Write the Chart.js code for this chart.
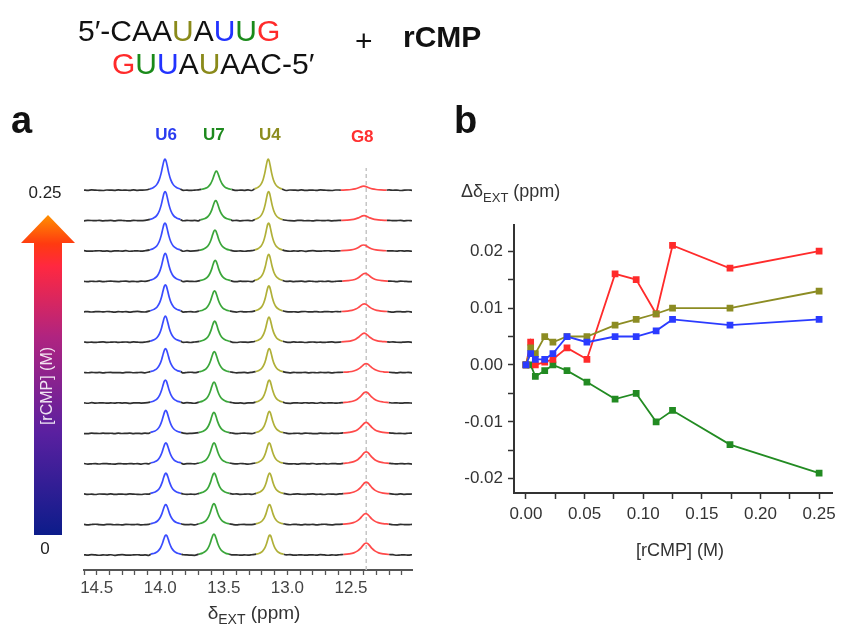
<!DOCTYPE html>
<html>
<head>
<meta charset="utf-8">
<script src="https://cdn.jsdelivr.net/npm/chart.js@4.4.1/dist/chart.umd.min.js"></script>
<style>
  body { margin: 0; background: #fff; }
  #wrap { position: relative; width: 848px; height: 630px; overflow: hidden; }
  canvas { position: absolute; }
</style>
</head>
<body>
<div id="wrap">
  <canvas id="labels" width="848" height="630" style="left:0;top:0"></canvas>
  <canvas id="spectra" width="368" height="510" style="left:64px;top:120px"></canvas>
  <canvas id="shifts" width="408" height="430" style="left:440px;top:200px"></canvas>
</div>
<script>
// [rCMP] for each spectrum (M), bottom trace first
const conc = [0, 0.004, 0.008, 0.016, 0.023, 0.035, 0.052, 0.076, 0.094, 0.111, 0.125, 0.174, 0.25];

// imino peaks
const peakNames = ["U6", "U7", "U4", "G8"];
const peakShift0 = [13.955, 13.578, 13.138, 12.38];   // ppm at 0 M
const peakWidth = [1.0, 1.0, 0.9, 1.5];               // relative line width

// shift change vs [rCMP] (ppm)
const ddU6 = [0, 0.002, 0.001, 0.001, 0.002, 0.005, 0.004, 0.005, 0.005, 0.006, 0.008, 0.007, 0.008];
const ddU7 = [0, 0.000, -0.002, -0.001, 0.000, -0.001, -0.003, -0.006, -0.005, -0.010, -0.008, -0.014, -0.019];
const ddU4 = [0, 0.003, 0.002, 0.005, 0.004, 0.005, 0.005, 0.007, 0.008, 0.009, 0.010, 0.010, 0.013];
const ddG8 = [0, 0.004, 0.000, 0.0005, 0.001, 0.003, 0.001, 0.016, 0.015, 0.009, 0.021, 0.017, 0.020];

// peak heights per spectrum (a.u.)
const hU6 = [20, 20, 21, 21, 23, 23, 24, 26, 27, 28, 28, 29, 31];
const hU7 = [21, 21, 21, 21, 21, 21, 21, 21, 21, 21, 21, 20, 19];
const hU4 = [20, 20, 21, 21, 22, 23, 24, 25, 26, 27, 28, 29, 31];
const hG8 = [12, 11, 12, 12, 11, 11, 9, 9, 8, 8, 6, 5, 4];

// line shape of one peak: ppm offset / relative intensity
const lineOffsets = [-0.12, -0.09, -0.065, -0.045, -0.03, -0.018, -0.008, 0, 0.008, 0.018, 0.03, 0.045, 0.065, 0.09, 0.12];
const lineShape = [0.04, 0.09, 0.18, 0.34, 0.55, 0.78, 0.95, 1, 0.95, 0.78, 0.55, 0.34, 0.18, 0.09, 0.04];

// baseline noise (a.u.)
const baseNoise = [0.2, -0.15, 0.3, 0.05, -0.25, 0.15, -0.1, 0.25, -0.3, 0.1, 0.35, -0.05, -0.2, 0.15, 0.25,
  -0.15, 0.05, -0.3, 0.2, 0.1, -0.1, 0.3, -0.25, 0.0, 0.15, -0.2, 0.25, 0.1, -0.15, -0.3, 0.2, 0.05, -0.1,
  0.25, -0.05, 0.15, -0.25, 0.3, -0.1, 0.05, 0.2, -0.2, 0.1, -0.15, 0.25, -0.05, 0.15, -0.3, 0.1, 0.2, -0.1,
  0.05, -0.25, 0.15, 0.3, -0.15, 0.0, 0.2, -0.2, 0.1];

const xTicksA = [14.5, 14.0, 13.5, 13.0, 12.5];
const xTicksB = [0, 0.05, 0.10, 0.15, 0.20, 0.25];
const yTicksB = [-0.02, -0.01, 0, 0.01, 0.02];

const FONT = '"Liberation Sans", Arial, Helvetica, sans-serif';
Chart.defaults.font.family = FONT;
Chart.defaults.color = "#333";

const lineColors = ["#3a4cff", "#3aa63a", "#b0b038", "#ff4a4a"];
const labelColors = ["#2a3cf0", "#1e8a1e", "#8c8c1e", "#ff3030"];
const dotColors = ["#2b3bff", "#228b22", "#8c8c23", "#ff2b2b"];

const TRACE_STEP = 30.4;
const heights = [hU6, hU7, hU4, hG8];
const shifts = [ddU6, ddU7, ddU4, ddG8];
const ppmMin = 12.02, ppmMax = 14.60;

function tracePoints(k) {
  const pts = [];
  const centers = peakShift0.map((d0, p) => d0 + shifts[p][k]);
  const base = k * TRACE_STEP;
  for (let j = 0; ; j++) {
    const x = +(ppmMax - j * 0.03).toFixed(3);
    if (x < ppmMin - 1e-9) break;
    const inPeak = centers.some((c, p) => Math.abs(x - c) <= 0.12 * peakWidth[p] + 0.012);
    if (!inPeak) pts.push({ x, y: base + baseNoise[(j + 7 * k) % baseNoise.length], peak: -1 });
  }
  centers.forEach((c, p) => {
    lineOffsets.forEach((o, i) => {
      pts.push({ x: c + o * peakWidth[p], y: base + heights[p][k] * lineShape[i], peak: p });
    });
  });
  return pts.sort((a, b) => a.x - b.x);
}

const traceSets = conc.map((c, k) => {
  const pts = tracePoints(k);
  return {
    data: pts,
    borderColor: "#2f2f2f",
    borderWidth: 1.7,
    pointRadius: 0,
    cubicInterpolationMode: "monotone",
    segment: {
      borderColor: ctx => {
        const a = pts[ctx.p0DataIndex], b = pts[ctx.p1DataIndex];
        return a.peak >= 0 && a.peak === b.peak ? lineColors[a.peak] : "#2f2f2f";
      }
    }
  };
});

// reference line at the G8 position
traceSets.push({
  data: [{ x: peakShift0[3], y: -15 }, { x: peakShift0[3], y: 387 }],
  borderColor: "#c6c6c6",
  borderWidth: 1.5,
  borderDash: [4, 3],
  pointRadius: 0,
  tension: 0
});

const peakLabels = {
  id: "peakLabels",
  afterDraw(chart) {
    const { ctx } = chart;
    const x = chart.scales.x;
    ctx.save();
    ctx.font = "bold 17px " + FONT;
    ctx.textAlign = "center";
    ctx.textBaseline = "alphabetic";
    peakNames.forEach((n, p) => {
      ctx.fillStyle = labelColors[p];
      ctx.fillText(n, x.getPixelForValue(peakShift0[p]) - (p === 3 ? 4 : 0), p === 3 ? 22 : 20);
    });
    ctx.restore();
  }
};

new Chart(document.getElementById("spectra"), {
  type: "line",
  data: { datasets: traceSets },
  options: {
    responsive: false,
    animation: false,
    layout: { padding: { left: 20, right: 20, top: 20, bottom: 30 } },
    plugins: { legend: { display: false }, tooltip: { enabled: false } },
    scales: {
      x: {
        type: "linear",
        reverse: true,
        min: ppmMin,
        max: ppmMax,
        afterFit: s => { s.height = 30; },
        afterBuildTicks: s => {
          const t = [];
          for (let v = 121; v <= 146; v++) t.push({ value: v / 10 });
          s.ticks = t;
        },
        ticks: {
          autoSkip: false,
          maxRotation: 0,
          padding: 3,
          color: "#444",
          font: { size: 17 },
          callback: v => xTicksA.some(t => Math.abs(t - v) < 1e-6) ? v.toFixed(1) : ""
        },
        grid: { drawOnChartArea: false, tickLength: 5, color: "#555", tickWidth: 1.3 },
        border: { color: "#555", width: 2 }
      },
      y: { display: false, min: -15, max: 415 }
    }
  },
  plugins: [peakLabels]
});

// shift-change panel
const shiftSets = [ddU6, ddU4, ddG8, ddU7].map((dd, i) => {
  const p = [0, 2, 3, 1][i];
  return {
    data: conc.map((c, k) => ({ x: c, y: dd[k] })),
    borderColor: dotColors[p],
    backgroundColor: dotColors[p],
    borderWidth: 1.8,
    pointStyle: "rect",
    pointRadius: 3.5,
    tension: 0
  };
});

new Chart(document.getElementById("shifts"), {
  type: "line",
  data: { datasets: shiftSets },
  options: {
    responsive: false,
    animation: false,
    layout: { padding: { left: 0, right: 16, top: 25, bottom: 97 } },
    plugins: { legend: { display: false }, tooltip: { enabled: false } },
    scales: {
      x: {
        type: "linear",
        min: -0.0102,
        max: 0.261,
        afterFit: s => { s.height = 40; },
        afterBuildTicks: s => {
          const t = [];
          for (let v = 0; v <= 10; v++) t.push({ value: v * 0.025 });
          s.ticks = t;
        },
        ticks: {
          autoSkip: false,
          maxRotation: 0,
          padding: 5,
          color: "#333",
          font: { size: 17 },
          callback: v => xTicksB.some(t => Math.abs(t - v) < 1e-6) ? v.toFixed(2) : ""
        },
        grid: { drawOnChartArea: false, tickLength: 6, color: "#333", tickWidth: 1.5 },
        border: { color: "#333", width: 2 }
      },
      y: {
        type: "linear",
        min: -0.0225,
        max: 0.0246,
        afterFit: s => { s.width = 74; },
        afterBuildTicks: s => {
          const t = [];
          for (let v = -4; v <= 4; v++) t.push({ value: v * 0.005 });
          s.ticks = t;
        },
        ticks: {
          autoSkip: false,
          padding: 5,
          color: "#333",
          font: { size: 17 },
          callback: v => yTicksB.some(t => Math.abs(t - v) < 1e-6) ? v.toFixed(2) : ""
        },
        grid: { drawOnChartArea: false, tickLength: 6, color: "#333", tickWidth: 1.5 },
        border: { color: "#333", width: 2 }
      }
    }
  }
});

// titles, panel letters and the concentration arrow
const g = document.getElementById("labels").getContext("2d");

function runs(parts, x, y, font) {
  g.font = font;
  g.textAlign = "left";
  g.textBaseline = "alphabetic";
  for (const [txt, col] of parts) {
    g.fillStyle = col;
    g.fillText(txt, x, y);
    x += g.measureText(txt).width;
  }
}

const K = "#111", OL = "#8a8a1a", BL = "#2233ff", GR = "#1a8a1a", RD = "#ff2a2a";
runs([["5\u2032-CAA", K], ["U", OL], ["A", K], ["U", BL], ["U", GR], ["G", RD]], 78, 41, "30px " + FONT);
runs([["G", RD], ["U", GR], ["U", BL], ["A", K], ["U", OL], ["AAC-5\u2032", K]], 112, 74, "30px " + FONT);
runs([["+", K]], 355, 51, "30px " + FONT);
runs([["rCMP", K]], 403, 47, "bold 30px " + FONT);

runs([["a", K]], 11, 133, "bold 38px " + FONT);
runs([["b", K]], 454, 133, "bold 38px " + FONT);

// axis titles with subscripts
function subTitle(pre, sub, post, x, y, size, align) {
  g.font = size + "px " + FONT;
  const w1 = g.measureText(pre).width, w3 = g.measureText(post).width;
  g.font = Math.round(size * 0.72) + "px " + FONT;
  const w2 = g.measureText(sub).width;
  let x0 = align === "center" ? x - (w1 + w2 + w3) / 2 : x;
  g.fillStyle = "#333";
  g.textAlign = "left";
  g.font = size + "px " + FONT;
  g.fillText(pre, x0, y);
  g.font = Math.round(size * 0.72) + "px " + FONT;
  g.fillText(sub, x0 + w1, y + 5);
  g.font = size + "px " + FONT;
  g.fillText(post, x0 + w1 + w2, y);
}
subTitle("\u03b4", "EXT", " (ppm)", 254, 619, 19, "center");
subTitle("\u0394\u03b4", "EXT", " (ppm)", 461, 197, 18, "left");

g.fillStyle = "#333";
g.font = "18px " + FONT;
g.textAlign = "center";
g.fillText("[rCMP] (M)", 680, 556);

g.fillStyle = "#222";
g.font = "17px " + FONT;
g.fillText("0.25", 45, 198);
g.fillText("0", 45, 554);

// gradient arrow
const grad = g.createLinearGradient(0, 535, 0, 215);
grad.addColorStop(0, "#0c1c8a");
grad.addColorStop(0.32, "#5a20a0");
grad.addColorStop(0.62, "#b02480");
grad.addColorStop(0.84, "#ff2840");
grad.addColorStop(0.91, "#ff3a10");
grad.addColorStop(1, "#ff9000");
g.fillStyle = grad;
g.beginPath();
g.moveTo(34, 535);
g.lineTo(62, 535);
g.lineTo(62, 243);
g.lineTo(75, 243);
g.lineTo(48, 215);
g.lineTo(21, 243);
g.lineTo(34, 243);
g.closePath();
g.fill();

g.save();
g.translate(48, 386);
g.rotate(-Math.PI / 2);
g.fillStyle = "rgba(255,255,255,0.88)";
g.font = "16px " + FONT;
g.textAlign = "center";
g.textBaseline = "middle";
g.fillText("[rCMP] (M)", 0, 0);
g.restore();
</script>
</body>
</html>
